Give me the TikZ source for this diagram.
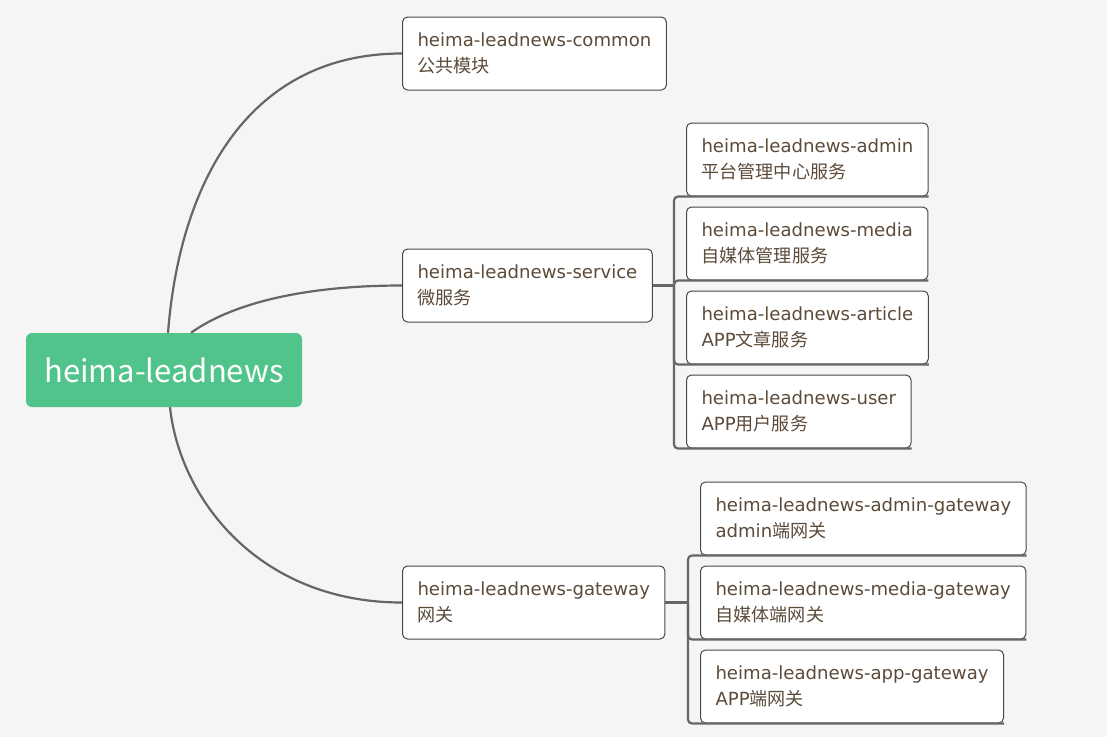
\documentclass[tikz,border=0pt]{standalone}
\usepackage{fontspec}
\setmainfont{DejaVu Sans}
\newfontfamily\cjk{Noto Sans CJK SC}
\usepackage{tikz}

\definecolor{bgcol}{RGB}{245,245,245}
\definecolor{rootcol}{RGB}{80,196,138}
\definecolor{textcol}{RGB}{92,75,58}
\definecolor{framecol}{RGB}{72,72,72}
\definecolor{linecol}{RGB}{102,102,102}

\tikzset{
    rootnode/.style={fill=rootcol, rounded corners=6pt, minimum width=276pt, minimum height=74pt,
        text=white, font=\cjk\fontsize{31}{36}\selectfont},
    topic/.style={draw=framecol, line width=1pt, fill=white, rounded corners=5pt, anchor=west,
        align=left, inner xsep=15pt, minimum height=73pt, text=textcol,
        font=\fontsize{18.1}{26}\selectfont},
    branch/.style={draw=linecol, line width=2.2pt},
}

\begin{document}
\begin{tikzpicture}[x=1pt, y=-1pt]
    \path[use as bounding box, fill=bgcol] (0,0) rectangle (1107,737);

    \node[rootnode] (root) at (164,370) {heima-leadnews};

    \node[topic] (common) at (402,53.5) {heima-leadnews-common\\{\cjk 公共模块}};
    \node[topic] (service) at (402,285.5) {heima-leadnews-service\\{\cjk 微服务}};
    \node[topic] (gateway) at (402,602.5) {heima-leadnews-gateway\\{\cjk 网关}};

    \node[topic] (admin) at (686,159.5) {heima-leadnews-admin\\{\cjk 平台管理中心服务}};
    \node[topic] (media) at (686,243.5) {heima-leadnews-media\\{\cjk 自媒体管理服务}};
    \node[topic] (article) at (686,327.5) {heima-leadnews-article\\APP{\cjk 文章服务}};
    \node[topic] (user) at (686,411.5) {heima-leadnews-user\\APP{\cjk 用户服务}};

    \node[topic] (admingw) at (700,518.5) {heima-leadnews-admin-gateway\\admin{\cjk 端网关}};
    \node[topic] (mediagw) at (700,602.5) {heima-leadnews-media-gateway\\{\cjk 自媒体端网关}};
    \node[topic] (appgw) at (700,686.5) {heima-leadnews-app-gateway\\APP{\cjk 端网关}};

    \draw[branch] ([xshift=4pt]root.north) .. controls +(12,-153) and +(-152,0) .. (common.west);
    \draw[branch] ([xshift=27pt]root.north) .. controls +(39,-28) and +(-102,0) .. (service.west);
    \draw[branch] ([xshift=6pt]root.south) .. controls +(10,93) and +(-142,0) .. (gateway.west);

    \coordinate (svcfork) at ([xshift=-12pt]admin.west |- service.east);
    \draw[branch] (service.east) -- (svcfork);
    \foreach \c in {admin,media,article,user}
        \draw[branch, rounded corners=4pt] (svcfork) |- (\c.south east);

    \coordinate (gwfork) at ([xshift=-12pt]admingw.west |- gateway.east);
    \draw[branch] (gateway.east) -- (gwfork);
    \foreach \c in {admingw,mediagw,appgw}
        \draw[branch, rounded corners=4pt] (gwfork) |- (\c.south east);
\end{tikzpicture}
\end{document}
